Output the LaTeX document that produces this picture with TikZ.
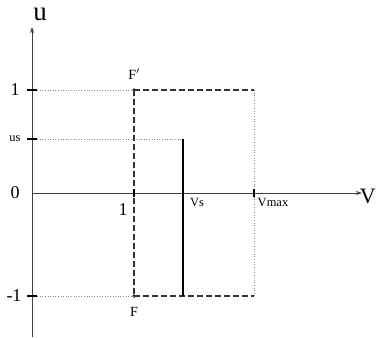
\documentclass[tikz,border=0pt]{standalone}
\usepackage{fontspec}
\setmainfont{Liberation Serif}
\usetikzlibrary{arrows.meta}
\tikzset{
  axis/.style={draw=black!75, line width=0.9pt},
  guide/.style={draw=black!45, dotted, line width=0.6pt},
  boxline/.style={draw=black!80, dashed, dash pattern=on 6pt off 3pt, line width=1.4pt},
  tick/.style={draw=black, line width=2.2pt},
  sol/.style={draw=black, line width=2pt},
  lab/.style={font=\fontsize{18}{18}\selectfont, inner sep=0pt},
  small/.style={font=\fontsize{12.5}{12.5}\selectfont, inner sep=0pt},
  mid/.style={font=\fontsize{14}{14}\selectfont, inner sep=0pt},
  pt/.style={circle, fill=black, inner sep=0pt, minimum size=3.5pt},
}
\begin{document}
\begin{tikzpicture}[x=1pt,y=-1pt]
\useasboundingbox (0,0) rectangle (377,337);
% coordinates
\coordinate (O) at (32,193);
\coordinate (ybot) at (32,337);
\coordinate (ytop) at (32,27);
\coordinate (xend) at (362,193);
\coordinate (Y1) at (32,90);
\coordinate (Yus) at (32,139);
\coordinate (Ym1) at (32,296);
\coordinate (Us) at (183,139);
\coordinate (Vs) at (183,193);
\coordinate (Vsb) at (183,296);
\coordinate (X1) at (134,193);
\coordinate (Xm) at (254,193);
\coordinate (TR) at (254,90);
\coordinate (BR) at (254,296);
\node[pt] (Fp) at (134,90) {};
\node[pt] (F) at (134,296) {};
% guides
\draw[guide] (Y1) -- (Fp.center);
\draw[guide] (Yus) -- (Us);
\draw[guide] (Ym1) -- (F.center);
\draw[guide] (TR) -- (BR);
% axes
\draw[axis, -{Stealth[length=6pt,width=4pt]}] (ybot) -- (ytop);
\draw[axis, -{Stealth[length=6pt,width=4pt]}] (O) -- (xend);
% dashed box
\draw[boxline] (Fp.center) -- (TR);
\draw[boxline] (Fp.center) -- (F.center);
\draw[boxline] (F.center) -- (BR);
% solid line
\draw[sol] (Us) -- (Vsb);
% ticks
\draw[tick] ([xshift=-5pt]Y1) -- ([xshift=5pt]Y1);
\draw[tick] ([xshift=-5pt]Yus) -- ([xshift=5pt]Yus);
\draw[tick] ([xshift=-5pt]Ym1) -- ([xshift=5pt]Ym1);
\draw[tick] ([yshift=-4pt]X1) -- ([yshift=4pt]X1);
\draw[tick] ([yshift=-4pt]Xm) -- ([yshift=4pt]Xm);
% labels
\node[font=\fontsize{27}{27}\selectfont, inner sep=0pt] (lu) at (40,14) {u};
\node[font=\fontsize{22}{22}\selectfont, inner sep=0pt, anchor=east] (lv) at (376,196) {V};
\node[lab] (l1) at (15,90) {1};
\node[small] (lus) at (15,139) {us};
\node[lab] (l0) at (15,193) {0};
\node[lab] (lm1) at (14,296) {-1};
\node[lab] (lx1) at (123,210) {1};
\node[small] (lvs) at (197,202) {Vs};
\node[small] (lvm) at (273,202) {Vmax};
\node[mid] (lFp) at (134,74) {F$'$};
\node[mid] (lF) at (134,312) {F};
\end{tikzpicture}
\end{document}
